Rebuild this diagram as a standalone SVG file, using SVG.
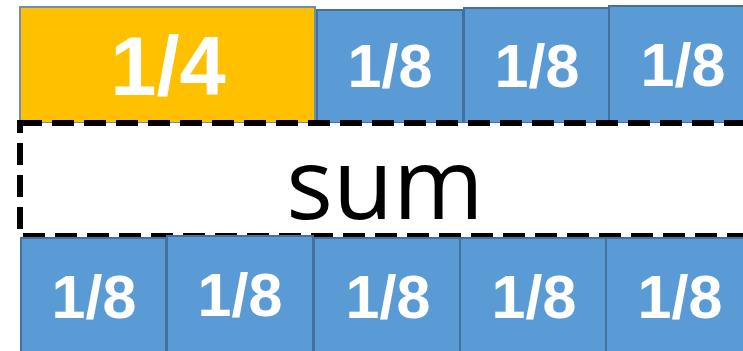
<svg xmlns="http://www.w3.org/2000/svg" width="743" height="351" viewBox="0 0 743 351">
<style>
.blue{fill:#5B9BD5;stroke:#41719C;stroke-width:2}
.orange{fill:#FFC000;stroke:#6F8FAF;stroke-width:2}
.lbl{font-family:"Liberation Sans",Arial,sans-serif;font-weight:bold;fill:#FFFFFF;text-anchor:middle}
.sum{fill:#FFFFFF;stroke:#000000;stroke-width:6;stroke-dasharray:22 10}
</style>
<rect width="743" height="351" fill="#FFFFFF"/>
<g id="top-quarter"><rect class="orange" x="20" y="7" width="295" height="116"/><text class="lbl" x="168" y="95" font-size="83">1/4</text></g>
<g id="top-eighth-1"><rect class="blue" x="317" y="10" width="146" height="113"/><text class="lbl" x="390" y="87" font-size="61">1/8</text></g>
<g id="top-eighth-2"><rect class="blue" x="464" y="8" width="145" height="115"/><text class="lbl" x="537" y="87" font-size="61">1/8</text></g>
<g id="top-eighth-3"><rect class="blue" x="609" y="6" width="150" height="117"/><text class="lbl" x="683" y="86" font-size="61">1/8</text></g>
<g id="sum"><rect class="sum" x="20" y="123" width="740" height="113"/><text x="385" y="219" font-family="'Open Sans','Liberation Sans',Arial,sans-serif" font-size="98" fill="#000000" text-anchor="middle">sum</text></g>
<g id="bottom-eighth-1"><rect class="blue" x="21" y="238" width="145" height="120"/><text class="lbl" x="94" y="318" font-size="61">1/8</text></g>
<g id="bottom-eighth-2"><rect class="blue" x="167" y="236" width="146" height="122"/><text class="lbl" x="240" y="316" font-size="61">1/8</text></g>
<g id="bottom-eighth-3"><rect class="blue" x="314" y="238" width="146" height="120"/><text class="lbl" x="388" y="318" font-size="61">1/8</text></g>
<g id="bottom-eighth-4"><rect class="blue" x="460" y="238" width="146" height="120"/><text class="lbl" x="534" y="318" font-size="61">1/8</text></g>
<g id="bottom-eighth-5"><rect class="blue" x="606" y="238" width="150" height="120"/><text class="lbl" x="680" y="318" font-size="61">1/8</text></g>
<g id="connectors"></g>
</svg>
